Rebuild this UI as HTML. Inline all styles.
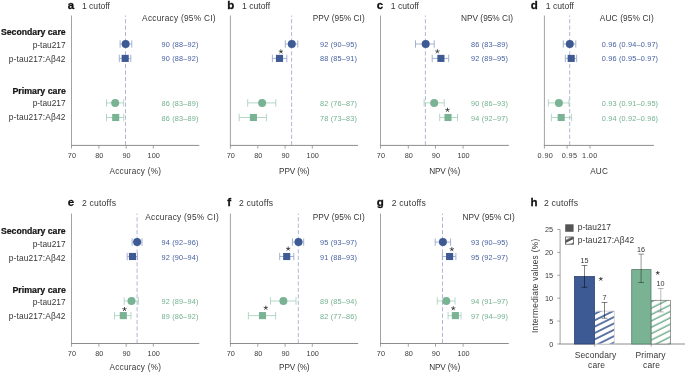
<!DOCTYPE html>
<html><head><meta charset="utf-8"><style>
html,body{margin:0;padding:0;background:#fff;}
svg{display:block;font-family:"Liberation Sans", sans-serif;will-change:transform;transform:translateZ(0);}
</style></head><body>
<svg width="685" height="372" viewBox="0 0 685 372">
<rect width="685" height="372" fill="#fff"/>
<text x="65.6" y="35.2" font-size="8.68" text-anchor="end" font-weight="bold" fill="#151515" stroke="#151515" stroke-width="0.22">Secondary care</text>
<text x="65.6" y="47.8" font-size="8.35" text-anchor="end" font-weight="normal" fill="#363636" >p-tau217</text>
<text x="65.6" y="62.1" font-size="8.35" text-anchor="end" font-weight="normal" fill="#363636" letter-spacing="0.15" >p-tau217:A&#946;42</text>
<text x="65.8" y="93.5" font-size="8.8" text-anchor="end" font-weight="bold" fill="#151515" stroke="#151515" stroke-width="0.22">Primary care</text>
<text x="65.6" y="106.4" font-size="8.35" text-anchor="end" font-weight="normal" fill="#363636" >p-tau217</text>
<text x="65.6" y="120.3" font-size="8.35" text-anchor="end" font-weight="normal" fill="#363636" letter-spacing="0.15" >p-tau217:A&#946;42</text>
<text x="65.6" y="234.10000000000002" font-size="8.68" text-anchor="end" font-weight="bold" fill="#151515" stroke="#151515" stroke-width="0.22">Secondary care</text>
<text x="65.6" y="246.7" font-size="8.35" text-anchor="end" font-weight="normal" fill="#363636" >p-tau217</text>
<text x="65.6" y="261.0" font-size="8.35" text-anchor="end" font-weight="normal" fill="#363636" letter-spacing="0.15" >p-tau217:A&#946;42</text>
<text x="65.8" y="293.0" font-size="8.8" text-anchor="end" font-weight="bold" fill="#151515" stroke="#151515" stroke-width="0.22">Primary care</text>
<text x="65.6" y="305.3" font-size="8.35" text-anchor="end" font-weight="normal" fill="#363636" >p-tau217</text>
<text x="65.6" y="319.2" font-size="8.35" text-anchor="end" font-weight="normal" fill="#363636" letter-spacing="0.15" >p-tau217:A&#946;42</text>
<text x="67.7" y="9.0" font-size="11.5" text-anchor="start" font-weight="bold" fill="#111" stroke="#111" stroke-width="0.3">a</text>
<text x="81.9" y="9.0" font-size="8.6" text-anchor="start" font-weight="normal" fill="#363636" >1 cutoff</text>
<line x1="71.5" y1="15.5" x2="71.5" y2="145.4" stroke="#a2a2a2" stroke-width="1" />
<line x1="71.0" y1="145.4" x2="199.3" y2="145.4" stroke="#8c8c8c" stroke-width="1" />
<line x1="71.5" y1="145.4" x2="71.5" y2="148.6" stroke="#8c8c8c" stroke-width="0.8" />
<text x="71.9" y="158.2" font-size="7.3" text-anchor="middle" font-weight="normal" fill="#3a3a3a" >70</text>
<line x1="98.9" y1="145.4" x2="98.9" y2="148.6" stroke="#8c8c8c" stroke-width="0.8" />
<text x="99.30000000000001" y="158.2" font-size="7.3" text-anchor="middle" font-weight="normal" fill="#3a3a3a" >80</text>
<line x1="126.2" y1="145.4" x2="126.2" y2="148.6" stroke="#8c8c8c" stroke-width="0.8" />
<text x="126.60000000000001" y="158.2" font-size="7.3" text-anchor="middle" font-weight="normal" fill="#3a3a3a" >90</text>
<line x1="153.3" y1="145.4" x2="153.3" y2="148.6" stroke="#8c8c8c" stroke-width="0.8" />
<text x="153.70000000000002" y="158.2" font-size="7.3" text-anchor="middle" font-weight="normal" fill="#3a3a3a" >100</text>
<text x="135.4" y="173.8" font-size="8.2" text-anchor="middle" font-weight="normal" fill="#363636" letter-spacing="0.25" >Accuracy (%)</text>
<line x1="125.5" y1="15.5" x2="125.5" y2="145" stroke="#b3b5d8" stroke-width="1" stroke-dasharray="4.2 2.22" stroke-dashoffset="2.8"/>
<text x="142.1" y="20.8" font-size="8.3" text-anchor="start" font-weight="normal" fill="#363636" letter-spacing="0.27" >Accuracy (95% CI)</text>
<text x="161.5" y="46.9" font-size="7.3" text-anchor="start" font-weight="normal" fill="#46609e" letter-spacing="0.18" >90 (88–92)</text>
<text x="161.5" y="61.4" font-size="7.3" text-anchor="start" font-weight="normal" fill="#46609e" letter-spacing="0.18" >90 (88–92)</text>
<text x="161.5" y="106.2" font-size="7.3" text-anchor="start" font-weight="normal" fill="#74b190" letter-spacing="0.18" >86 (83–89)</text>
<text x="161.5" y="120.8" font-size="7.3" text-anchor="start" font-weight="normal" fill="#74b190" letter-spacing="0.18" >86 (83–89)</text>
<line x1="120.1" y1="44.0" x2="131.8" y2="44.0" stroke="#9aa9cc" stroke-width="0.9" />
<line x1="120.1" y1="40.3" x2="120.1" y2="47.7" stroke="#9aa9cc" stroke-width="0.9" />
<line x1="131.8" y1="40.3" x2="131.8" y2="47.7" stroke="#9aa9cc" stroke-width="0.9" />
<circle cx="125.65" cy="44.0" r="4" fill="#3d5a94"/>
<line x1="119.3" y1="58.4" x2="130.8" y2="58.4" stroke="#9aa9cc" stroke-width="0.9" />
<line x1="119.3" y1="54.699999999999996" x2="119.3" y2="62.1" stroke="#9aa9cc" stroke-width="0.9" />
<line x1="130.8" y1="54.699999999999996" x2="130.8" y2="62.1" stroke="#9aa9cc" stroke-width="0.9" />
<rect x="121.65" y="54.85" width="7.1" height="7.1" fill="#3d5a94"/>
<line x1="106.5" y1="102.9" x2="123.7" y2="102.9" stroke="#acd3bf" stroke-width="0.9" />
<line x1="106.5" y1="99.2" x2="106.5" y2="106.60000000000001" stroke="#acd3bf" stroke-width="0.9" />
<line x1="123.7" y1="99.2" x2="123.7" y2="106.60000000000001" stroke="#acd3bf" stroke-width="0.9" />
<circle cx="115.2" cy="102.9" r="4" fill="#79b394"/>
<line x1="106.5" y1="117.5" x2="123.7" y2="117.5" stroke="#acd3bf" stroke-width="0.9" />
<line x1="106.5" y1="113.8" x2="106.5" y2="121.2" stroke="#acd3bf" stroke-width="0.9" />
<line x1="123.7" y1="113.8" x2="123.7" y2="121.2" stroke="#acd3bf" stroke-width="0.9" />
<rect x="112.15" y="113.95" width="7.1" height="7.1" fill="#79b394"/>
<text x="227.3" y="9.0" font-size="11.5" text-anchor="start" font-weight="bold" fill="#111" stroke="#111" stroke-width="0.3">b</text>
<text x="242.1" y="9.0" font-size="8.6" text-anchor="start" font-weight="normal" fill="#363636" >1 cutoff</text>
<line x1="230.4" y1="15.5" x2="230.4" y2="145.4" stroke="#a2a2a2" stroke-width="1" />
<line x1="229.9" y1="145.4" x2="358.1" y2="145.4" stroke="#8c8c8c" stroke-width="1" />
<line x1="230.4" y1="145.4" x2="230.4" y2="148.6" stroke="#8c8c8c" stroke-width="0.8" />
<text x="230.8" y="158.2" font-size="7.3" text-anchor="middle" font-weight="normal" fill="#3a3a3a" >70</text>
<line x1="257.8" y1="145.4" x2="257.8" y2="148.6" stroke="#8c8c8c" stroke-width="0.8" />
<text x="258.2" y="158.2" font-size="7.3" text-anchor="middle" font-weight="normal" fill="#3a3a3a" >80</text>
<line x1="285.1" y1="145.4" x2="285.1" y2="148.6" stroke="#8c8c8c" stroke-width="0.8" />
<text x="285.5" y="158.2" font-size="7.3" text-anchor="middle" font-weight="normal" fill="#3a3a3a" >90</text>
<line x1="312.3" y1="145.4" x2="312.3" y2="148.6" stroke="#8c8c8c" stroke-width="0.8" />
<text x="312.7" y="158.2" font-size="7.3" text-anchor="middle" font-weight="normal" fill="#3a3a3a" >100</text>
<text x="294.25" y="173.8" font-size="8.2" text-anchor="middle" font-weight="normal" fill="#363636" letter-spacing="-0.15" >PPV (%)</text>
<line x1="291.6" y1="15.5" x2="291.6" y2="145" stroke="#b3b5d8" stroke-width="1" stroke-dasharray="4.2 2.22" stroke-dashoffset="2.8"/>
<text x="312.7" y="20.8" font-size="8.3" text-anchor="start" font-weight="normal" fill="#363636" letter-spacing="0.03" >PPV (95% CI)</text>
<text x="320" y="46.9" font-size="7.3" text-anchor="start" font-weight="normal" fill="#46609e" letter-spacing="0.18" >92 (90–95)</text>
<text x="320" y="61.4" font-size="7.3" text-anchor="start" font-weight="normal" fill="#46609e" letter-spacing="0.18" >88 (85–91)</text>
<text x="320" y="106.2" font-size="7.3" text-anchor="start" font-weight="normal" fill="#74b190" letter-spacing="0.18" >82 (76–87)</text>
<text x="320" y="120.8" font-size="7.3" text-anchor="start" font-weight="normal" fill="#74b190" letter-spacing="0.18" >78 (73–83)</text>
<line x1="285.3" y1="44.0" x2="297.8" y2="44.0" stroke="#9aa9cc" stroke-width="0.9" />
<line x1="285.3" y1="40.3" x2="285.3" y2="47.7" stroke="#9aa9cc" stroke-width="0.9" />
<line x1="297.8" y1="40.3" x2="297.8" y2="47.7" stroke="#9aa9cc" stroke-width="0.9" />
<circle cx="291.8" cy="44.0" r="4" fill="#3d5a94"/>
<line x1="272.4" y1="58.4" x2="286.8" y2="58.4" stroke="#9aa9cc" stroke-width="0.9" />
<line x1="272.4" y1="54.699999999999996" x2="272.4" y2="62.1" stroke="#9aa9cc" stroke-width="0.9" />
<line x1="286.8" y1="54.699999999999996" x2="286.8" y2="62.1" stroke="#9aa9cc" stroke-width="0.9" />
<rect x="275.95" y="54.85" width="7.1" height="7.1" fill="#3d5a94"/>
<line x1="247.7" y1="102.9" x2="275.8" y2="102.9" stroke="#acd3bf" stroke-width="0.9" />
<line x1="247.7" y1="99.2" x2="247.7" y2="106.60000000000001" stroke="#acd3bf" stroke-width="0.9" />
<line x1="275.8" y1="99.2" x2="275.8" y2="106.60000000000001" stroke="#acd3bf" stroke-width="0.9" />
<circle cx="262.1" cy="102.9" r="4" fill="#79b394"/>
<line x1="239.2" y1="117.5" x2="266.4" y2="117.5" stroke="#acd3bf" stroke-width="0.9" />
<line x1="239.2" y1="113.8" x2="239.2" y2="121.2" stroke="#acd3bf" stroke-width="0.9" />
<line x1="266.4" y1="113.8" x2="266.4" y2="121.2" stroke="#acd3bf" stroke-width="0.9" />
<rect x="249.85" y="113.95" width="7.1" height="7.1" fill="#79b394"/>
<path d="M280.90 51.60L280.90 49.75M280.90 51.60L282.66 51.03M280.90 51.60L281.99 53.10M280.90 51.60L279.81 53.10M280.90 51.60L279.14 51.03" stroke="#3a3a3a" stroke-width="0.85" stroke-linecap="round" fill="none"/>
<text x="376.8" y="9.0" font-size="11.5" text-anchor="start" font-weight="bold" fill="#111" stroke="#111" stroke-width="0.3">c</text>
<text x="390.8" y="9.0" font-size="8.6" text-anchor="start" font-weight="normal" fill="#363636" >1 cutoff</text>
<line x1="380.5" y1="15.5" x2="380.5" y2="145.4" stroke="#a2a2a2" stroke-width="1" />
<line x1="380.0" y1="145.4" x2="508.8" y2="145.4" stroke="#8c8c8c" stroke-width="1" />
<line x1="380.5" y1="145.4" x2="380.5" y2="148.6" stroke="#8c8c8c" stroke-width="0.8" />
<text x="380.9" y="158.2" font-size="7.3" text-anchor="middle" font-weight="normal" fill="#3a3a3a" >70</text>
<line x1="408.3" y1="145.4" x2="408.3" y2="148.6" stroke="#8c8c8c" stroke-width="0.8" />
<text x="408.7" y="158.2" font-size="7.3" text-anchor="middle" font-weight="normal" fill="#3a3a3a" >80</text>
<line x1="435.5" y1="145.4" x2="435.5" y2="148.6" stroke="#8c8c8c" stroke-width="0.8" />
<text x="435.9" y="158.2" font-size="7.3" text-anchor="middle" font-weight="normal" fill="#3a3a3a" >90</text>
<line x1="463.1" y1="145.4" x2="463.1" y2="148.6" stroke="#8c8c8c" stroke-width="0.8" />
<text x="463.5" y="158.2" font-size="7.3" text-anchor="middle" font-weight="normal" fill="#3a3a3a" >100</text>
<text x="444.65" y="173.8" font-size="8.2" text-anchor="middle" font-weight="normal" fill="#363636" letter-spacing="-0.15" >NPV (%)</text>
<line x1="425.4" y1="15.5" x2="425.4" y2="145" stroke="#b3b5d8" stroke-width="1" stroke-dasharray="4.2 2.22" stroke-dashoffset="2.8"/>
<text x="461" y="20.8" font-size="8.3" text-anchor="start" font-weight="normal" fill="#363636" >NPV (95% CI)</text>
<text x="471" y="46.9" font-size="7.3" text-anchor="start" font-weight="normal" fill="#46609e" letter-spacing="0.18" >86 (83–89)</text>
<text x="471" y="61.4" font-size="7.3" text-anchor="start" font-weight="normal" fill="#46609e" letter-spacing="0.18" >92 (89–95)</text>
<text x="471" y="106.2" font-size="7.3" text-anchor="start" font-weight="normal" fill="#74b190" letter-spacing="0.18" >90 (86–93)</text>
<text x="471" y="120.8" font-size="7.3" text-anchor="start" font-weight="normal" fill="#74b190" letter-spacing="0.18" >94 (92–97)</text>
<line x1="415.5" y1="44.0" x2="434.2" y2="44.0" stroke="#9aa9cc" stroke-width="0.9" />
<line x1="415.5" y1="40.3" x2="415.5" y2="47.7" stroke="#9aa9cc" stroke-width="0.9" />
<line x1="434.2" y1="40.3" x2="434.2" y2="47.7" stroke="#9aa9cc" stroke-width="0.9" />
<circle cx="425.7" cy="44.0" r="4" fill="#3d5a94"/>
<line x1="432.2" y1="58.4" x2="448.7" y2="58.4" stroke="#9aa9cc" stroke-width="0.9" />
<line x1="432.2" y1="54.699999999999996" x2="432.2" y2="62.1" stroke="#9aa9cc" stroke-width="0.9" />
<line x1="448.7" y1="54.699999999999996" x2="448.7" y2="62.1" stroke="#9aa9cc" stroke-width="0.9" />
<rect x="437.34999999999997" y="54.85" width="7.1" height="7.1" fill="#3d5a94"/>
<line x1="424.1" y1="102.9" x2="444.2" y2="102.9" stroke="#acd3bf" stroke-width="0.9" />
<line x1="424.1" y1="99.2" x2="424.1" y2="106.60000000000001" stroke="#acd3bf" stroke-width="0.9" />
<line x1="444.2" y1="99.2" x2="444.2" y2="106.60000000000001" stroke="#acd3bf" stroke-width="0.9" />
<circle cx="434.2" cy="102.9" r="4" fill="#79b394"/>
<line x1="439.7" y1="117.5" x2="457.5" y2="117.5" stroke="#acd3bf" stroke-width="0.9" />
<line x1="439.7" y1="113.8" x2="439.7" y2="121.2" stroke="#acd3bf" stroke-width="0.9" />
<line x1="457.5" y1="113.8" x2="457.5" y2="121.2" stroke="#acd3bf" stroke-width="0.9" />
<rect x="444.45" y="113.95" width="7.1" height="7.1" fill="#79b394"/>
<path d="M437.40 51.50L437.40 49.65M437.40 51.50L439.16 50.93M437.40 51.50L438.49 53.00M437.40 51.50L436.31 53.00M437.40 51.50L435.64 50.93" stroke="#3a3a3a" stroke-width="0.85" stroke-linecap="round" fill="none"/>
<path d="M447.50 110.00L447.50 108.15M447.50 110.00L449.26 109.43M447.50 110.00L448.59 111.50M447.50 110.00L446.41 111.50M447.50 110.00L445.74 109.43" stroke="#3a3a3a" stroke-width="0.85" stroke-linecap="round" fill="none"/>
<text x="530.8" y="9.0" font-size="11.5" text-anchor="start" font-weight="bold" fill="#111" stroke="#111" stroke-width="0.3">d</text>
<text x="545.8" y="9.0" font-size="8.6" text-anchor="start" font-weight="normal" fill="#363636" >1 cutoff</text>
<line x1="544.4" y1="15.5" x2="544.4" y2="145.4" stroke="#a2a2a2" stroke-width="1" />
<line x1="543.9" y1="145.4" x2="653.9" y2="145.4" stroke="#8c8c8c" stroke-width="1" />
<line x1="544.4" y1="145.4" x2="544.4" y2="148.6" stroke="#8c8c8c" stroke-width="0.8" />
<text x="545.4" y="158.2" font-size="7.3" text-anchor="middle" font-weight="normal" fill="#3a3a3a" letter-spacing="0.35" >0.90</text>
<line x1="567.1" y1="145.4" x2="567.1" y2="148.6" stroke="#8c8c8c" stroke-width="0.8" />
<text x="569.5" y="158.2" font-size="7.3" text-anchor="middle" font-weight="normal" fill="#3a3a3a" letter-spacing="0.35" >0.95</text>
<line x1="590" y1="145.4" x2="590" y2="148.6" stroke="#8c8c8c" stroke-width="0.8" />
<text x="589.8" y="158.2" font-size="7.3" text-anchor="middle" font-weight="normal" fill="#3a3a3a" letter-spacing="0.35" >1.00</text>
<text x="599.15" y="173.8" font-size="8.2" text-anchor="middle" font-weight="normal" fill="#363636" letter-spacing="0.25" >AUC</text>
<line x1="569.7" y1="15.5" x2="569.7" y2="145" stroke="#b3b5d8" stroke-width="1" stroke-dasharray="4.2 2.22" stroke-dashoffset="2.8"/>
<text x="599.8" y="20.8" font-size="8.3" text-anchor="start" font-weight="normal" fill="#363636" letter-spacing="0.13" >AUC (95% CI)</text>
<text x="601.8" y="46.9" font-size="7.3" text-anchor="start" font-weight="normal" fill="#46609e" letter-spacing="0.18" >0.96 (0.94–0.97)</text>
<text x="601.8" y="61.4" font-size="7.3" text-anchor="start" font-weight="normal" fill="#46609e" letter-spacing="0.18" >0.96 (0.95–0.97)</text>
<text x="601.8" y="106.2" font-size="7.3" text-anchor="start" font-weight="normal" fill="#74b190" letter-spacing="0.18" >0.93 (0.91–0.95)</text>
<text x="601.8" y="120.8" font-size="7.3" text-anchor="start" font-weight="normal" fill="#74b190" letter-spacing="0.18" >0.94 (0.92–0.96)</text>
<line x1="563.3" y1="44.0" x2="575.8" y2="44.0" stroke="#9aa9cc" stroke-width="0.9" />
<line x1="563.3" y1="40.3" x2="563.3" y2="47.7" stroke="#9aa9cc" stroke-width="0.9" />
<line x1="575.8" y1="40.3" x2="575.8" y2="47.7" stroke="#9aa9cc" stroke-width="0.9" />
<circle cx="569.8" cy="44.0" r="4" fill="#3d5a94"/>
<line x1="565.3" y1="58.4" x2="576.6" y2="58.4" stroke="#9aa9cc" stroke-width="0.9" />
<line x1="565.3" y1="54.699999999999996" x2="565.3" y2="62.1" stroke="#9aa9cc" stroke-width="0.9" />
<line x1="576.6" y1="54.699999999999996" x2="576.6" y2="62.1" stroke="#9aa9cc" stroke-width="0.9" />
<rect x="567.6500000000001" y="54.85" width="7.1" height="7.1" fill="#3d5a94"/>
<line x1="548.3" y1="102.9" x2="569.0" y2="102.9" stroke="#acd3bf" stroke-width="0.9" />
<line x1="548.3" y1="99.2" x2="548.3" y2="106.60000000000001" stroke="#acd3bf" stroke-width="0.9" />
<line x1="569.0" y1="99.2" x2="569.0" y2="106.60000000000001" stroke="#acd3bf" stroke-width="0.9" />
<circle cx="558.9" cy="102.9" r="4" fill="#79b394"/>
<line x1="551.4" y1="117.5" x2="571.6" y2="117.5" stroke="#acd3bf" stroke-width="0.9" />
<line x1="551.4" y1="113.8" x2="551.4" y2="121.2" stroke="#acd3bf" stroke-width="0.9" />
<line x1="571.6" y1="113.8" x2="571.6" y2="121.2" stroke="#acd3bf" stroke-width="0.9" />
<rect x="557.6500000000001" y="113.95" width="7.1" height="7.1" fill="#79b394"/>
<text x="67.8" y="206.1" font-size="11.5" text-anchor="start" font-weight="bold" fill="#111" stroke="#111" stroke-width="0.3">e</text>
<text x="81.9" y="206.1" font-size="8.6" text-anchor="start" font-weight="normal" fill="#363636" letter-spacing="0.22" >2 cutoffs</text>
<line x1="71.5" y1="213.6" x2="71.5" y2="343.5" stroke="#a2a2a2" stroke-width="1" />
<line x1="71.0" y1="343.5" x2="199.3" y2="343.5" stroke="#8c8c8c" stroke-width="1" />
<line x1="71.5" y1="343.5" x2="71.5" y2="346.7" stroke="#8c8c8c" stroke-width="0.8" />
<text x="71.9" y="355.5" font-size="7.3" text-anchor="middle" font-weight="normal" fill="#3a3a3a" >70</text>
<line x1="98.9" y1="343.5" x2="98.9" y2="346.7" stroke="#8c8c8c" stroke-width="0.8" />
<text x="99.30000000000001" y="355.5" font-size="7.3" text-anchor="middle" font-weight="normal" fill="#3a3a3a" >80</text>
<line x1="126.2" y1="343.5" x2="126.2" y2="346.7" stroke="#8c8c8c" stroke-width="0.8" />
<text x="126.60000000000001" y="355.5" font-size="7.3" text-anchor="middle" font-weight="normal" fill="#3a3a3a" >90</text>
<line x1="153.3" y1="343.5" x2="153.3" y2="346.7" stroke="#8c8c8c" stroke-width="0.8" />
<text x="153.70000000000002" y="355.5" font-size="7.3" text-anchor="middle" font-weight="normal" fill="#3a3a3a" >100</text>
<text x="135.4" y="369.8" font-size="8.2" text-anchor="middle" font-weight="normal" fill="#363636" letter-spacing="0.25" >Accuracy (%)</text>
<line x1="137.1" y1="213.6" x2="137.1" y2="343.1" stroke="#b3b5d8" stroke-width="1" stroke-dasharray="4.2 2.22" stroke-dashoffset="2.8"/>
<text x="145.2" y="219.70000000000002" font-size="8.3" text-anchor="start" font-weight="normal" fill="#363636" letter-spacing="0.27" >Accuracy (95% CI)</text>
<text x="161.5" y="245.0" font-size="7.3" text-anchor="start" font-weight="normal" fill="#46609e" letter-spacing="0.18" >94 (92–96)</text>
<text x="161.5" y="259.5" font-size="7.3" text-anchor="start" font-weight="normal" fill="#46609e" letter-spacing="0.18" >92 (90–94)</text>
<text x="161.5" y="304.3" font-size="7.3" text-anchor="start" font-weight="normal" fill="#74b190" letter-spacing="0.18" >92 (89–94)</text>
<text x="161.5" y="318.9" font-size="7.3" text-anchor="start" font-weight="normal" fill="#74b190" letter-spacing="0.18" >89 (86–92)</text>
<line x1="132.1" y1="242.1" x2="142.0" y2="242.1" stroke="#9aa9cc" stroke-width="0.9" />
<line x1="132.1" y1="238.4" x2="132.1" y2="245.79999999999998" stroke="#9aa9cc" stroke-width="0.9" />
<line x1="142.0" y1="238.4" x2="142.0" y2="245.79999999999998" stroke="#9aa9cc" stroke-width="0.9" />
<circle cx="137.1" cy="242.1" r="4" fill="#3d5a94"/>
<line x1="127.2" y1="256.5" x2="137.5" y2="256.5" stroke="#9aa9cc" stroke-width="0.9" />
<line x1="127.2" y1="252.8" x2="127.2" y2="260.2" stroke="#9aa9cc" stroke-width="0.9" />
<line x1="137.5" y1="252.8" x2="137.5" y2="260.2" stroke="#9aa9cc" stroke-width="0.9" />
<rect x="128.95" y="252.95" width="7.1" height="7.1" fill="#3d5a94"/>
<line x1="124.2" y1="301.0" x2="138.4" y2="301.0" stroke="#acd3bf" stroke-width="0.9" />
<line x1="124.2" y1="297.3" x2="124.2" y2="304.7" stroke="#acd3bf" stroke-width="0.9" />
<line x1="138.4" y1="297.3" x2="138.4" y2="304.7" stroke="#acd3bf" stroke-width="0.9" />
<circle cx="131.5" cy="301.0" r="4" fill="#79b394"/>
<line x1="114.5" y1="315.6" x2="130.9" y2="315.6" stroke="#acd3bf" stroke-width="0.9" />
<line x1="114.5" y1="311.90000000000003" x2="114.5" y2="319.3" stroke="#acd3bf" stroke-width="0.9" />
<line x1="130.9" y1="311.90000000000003" x2="130.9" y2="319.3" stroke="#acd3bf" stroke-width="0.9" />
<rect x="119.75" y="312.05" width="7.1" height="7.1" fill="#79b394"/>
<path d="M124.50 309.20L124.50 307.35M124.50 309.20L126.26 308.63M124.50 309.20L125.59 310.70M124.50 309.20L123.41 310.70M124.50 309.20L122.74 308.63" stroke="#3a3a3a" stroke-width="0.85" stroke-linecap="round" fill="none"/>
<text x="227.3" y="206.1" font-size="11.5" text-anchor="start" font-weight="bold" fill="#111" stroke="#111" stroke-width="0.3">f</text>
<text x="239" y="206.1" font-size="8.6" text-anchor="start" font-weight="normal" fill="#363636" letter-spacing="0.22" >2 cutoffs</text>
<line x1="230.4" y1="213.6" x2="230.4" y2="343.5" stroke="#a2a2a2" stroke-width="1" />
<line x1="229.9" y1="343.5" x2="358.1" y2="343.5" stroke="#8c8c8c" stroke-width="1" />
<line x1="230.4" y1="343.5" x2="230.4" y2="346.7" stroke="#8c8c8c" stroke-width="0.8" />
<text x="230.8" y="355.5" font-size="7.3" text-anchor="middle" font-weight="normal" fill="#3a3a3a" >70</text>
<line x1="257.8" y1="343.5" x2="257.8" y2="346.7" stroke="#8c8c8c" stroke-width="0.8" />
<text x="258.2" y="355.5" font-size="7.3" text-anchor="middle" font-weight="normal" fill="#3a3a3a" >80</text>
<line x1="285.1" y1="343.5" x2="285.1" y2="346.7" stroke="#8c8c8c" stroke-width="0.8" />
<text x="285.5" y="355.5" font-size="7.3" text-anchor="middle" font-weight="normal" fill="#3a3a3a" >90</text>
<line x1="312.3" y1="343.5" x2="312.3" y2="346.7" stroke="#8c8c8c" stroke-width="0.8" />
<text x="312.7" y="355.5" font-size="7.3" text-anchor="middle" font-weight="normal" fill="#3a3a3a" >100</text>
<text x="294.25" y="369.8" font-size="8.2" text-anchor="middle" font-weight="normal" fill="#363636" letter-spacing="-0.15" >PPV (%)</text>
<line x1="298.3" y1="213.6" x2="298.3" y2="343.1" stroke="#b3b5d8" stroke-width="1" stroke-dasharray="4.2 2.22" stroke-dashoffset="2.8"/>
<text x="312.7" y="219.70000000000002" font-size="8.3" text-anchor="start" font-weight="normal" fill="#363636" letter-spacing="0.03" >PPV (95% CI)</text>
<text x="320" y="245.0" font-size="7.3" text-anchor="start" font-weight="normal" fill="#46609e" letter-spacing="0.18" >95 (93–97)</text>
<text x="320" y="259.5" font-size="7.3" text-anchor="start" font-weight="normal" fill="#46609e" letter-spacing="0.18" >91 (88–93)</text>
<text x="320" y="304.3" font-size="7.3" text-anchor="start" font-weight="normal" fill="#74b190" letter-spacing="0.18" >89 (85–94)</text>
<text x="320" y="318.9" font-size="7.3" text-anchor="start" font-weight="normal" fill="#74b190" letter-spacing="0.18" >82 (77–86)</text>
<line x1="292.4" y1="242.1" x2="303.7" y2="242.1" stroke="#9aa9cc" stroke-width="0.9" />
<line x1="292.4" y1="238.4" x2="292.4" y2="245.79999999999998" stroke="#9aa9cc" stroke-width="0.9" />
<line x1="303.7" y1="238.4" x2="303.7" y2="245.79999999999998" stroke="#9aa9cc" stroke-width="0.9" />
<circle cx="298.5" cy="242.1" r="4" fill="#3d5a94"/>
<line x1="279.7" y1="256.5" x2="293.8" y2="256.5" stroke="#9aa9cc" stroke-width="0.9" />
<line x1="279.7" y1="252.8" x2="279.7" y2="260.2" stroke="#9aa9cc" stroke-width="0.9" />
<line x1="293.8" y1="252.8" x2="293.8" y2="260.2" stroke="#9aa9cc" stroke-width="0.9" />
<rect x="283.15" y="252.95" width="7.1" height="7.1" fill="#3d5a94"/>
<line x1="270.5" y1="301.0" x2="296.0" y2="301.0" stroke="#acd3bf" stroke-width="0.9" />
<line x1="270.5" y1="297.3" x2="270.5" y2="304.7" stroke="#acd3bf" stroke-width="0.9" />
<line x1="296.0" y1="297.3" x2="296.0" y2="304.7" stroke="#acd3bf" stroke-width="0.9" />
<circle cx="283.4" cy="301.0" r="4" fill="#79b394"/>
<line x1="248.4" y1="315.6" x2="275.6" y2="315.6" stroke="#acd3bf" stroke-width="0.9" />
<line x1="248.4" y1="311.90000000000003" x2="248.4" y2="319.3" stroke="#acd3bf" stroke-width="0.9" />
<line x1="275.6" y1="311.90000000000003" x2="275.6" y2="319.3" stroke="#acd3bf" stroke-width="0.9" />
<rect x="258.95" y="312.05" width="7.1" height="7.1" fill="#79b394"/>
<path d="M288.20 248.80L288.20 246.95M288.20 248.80L289.96 248.23M288.20 248.80L289.29 250.30M288.20 248.80L287.11 250.30M288.20 248.80L286.44 248.23" stroke="#3a3a3a" stroke-width="0.85" stroke-linecap="round" fill="none"/>
<path d="M265.80 307.90L265.80 306.05M265.80 307.90L267.56 307.33M265.80 307.90L266.89 309.40M265.80 307.90L264.71 309.40M265.80 307.90L264.04 307.33" stroke="#3a3a3a" stroke-width="0.85" stroke-linecap="round" fill="none"/>
<text x="376.8" y="206.1" font-size="11.5" text-anchor="start" font-weight="bold" fill="#111" stroke="#111" stroke-width="0.3">g</text>
<text x="391.7" y="206.1" font-size="8.6" text-anchor="start" font-weight="normal" fill="#363636" letter-spacing="0.22" >2 cutoffs</text>
<line x1="380.5" y1="213.6" x2="380.5" y2="343.5" stroke="#a2a2a2" stroke-width="1" />
<line x1="380.0" y1="343.5" x2="508.8" y2="343.5" stroke="#8c8c8c" stroke-width="1" />
<line x1="380.5" y1="343.5" x2="380.5" y2="346.7" stroke="#8c8c8c" stroke-width="0.8" />
<text x="380.9" y="355.5" font-size="7.3" text-anchor="middle" font-weight="normal" fill="#3a3a3a" >70</text>
<line x1="408.3" y1="343.5" x2="408.3" y2="346.7" stroke="#8c8c8c" stroke-width="0.8" />
<text x="408.7" y="355.5" font-size="7.3" text-anchor="middle" font-weight="normal" fill="#3a3a3a" >80</text>
<line x1="435.5" y1="343.5" x2="435.5" y2="346.7" stroke="#8c8c8c" stroke-width="0.8" />
<text x="435.9" y="355.5" font-size="7.3" text-anchor="middle" font-weight="normal" fill="#3a3a3a" >90</text>
<line x1="463.1" y1="343.5" x2="463.1" y2="346.7" stroke="#8c8c8c" stroke-width="0.8" />
<text x="463.5" y="355.5" font-size="7.3" text-anchor="middle" font-weight="normal" fill="#3a3a3a" >100</text>
<text x="444.65" y="369.8" font-size="8.2" text-anchor="middle" font-weight="normal" fill="#363636" letter-spacing="-0.15" >NPV (%)</text>
<line x1="442.5" y1="213.6" x2="442.5" y2="343.1" stroke="#b3b5d8" stroke-width="1" stroke-dasharray="4.2 2.22" stroke-dashoffset="2.8"/>
<text x="462.6" y="219.70000000000002" font-size="8.3" text-anchor="start" font-weight="normal" fill="#363636" >NPV (95% CI)</text>
<text x="471" y="245.0" font-size="7.3" text-anchor="start" font-weight="normal" fill="#46609e" letter-spacing="0.18" >93 (90–95)</text>
<text x="471" y="259.5" font-size="7.3" text-anchor="start" font-weight="normal" fill="#46609e" letter-spacing="0.18" >95 (92–97)</text>
<text x="471" y="304.3" font-size="7.3" text-anchor="start" font-weight="normal" fill="#74b190" letter-spacing="0.18" >94 (91–97)</text>
<text x="471" y="318.9" font-size="7.3" text-anchor="start" font-weight="normal" fill="#74b190" letter-spacing="0.18" >97 (94–99)</text>
<line x1="435.2" y1="242.1" x2="450.6" y2="242.1" stroke="#9aa9cc" stroke-width="0.9" />
<line x1="435.2" y1="238.4" x2="435.2" y2="245.79999999999998" stroke="#9aa9cc" stroke-width="0.9" />
<line x1="450.6" y1="238.4" x2="450.6" y2="245.79999999999998" stroke="#9aa9cc" stroke-width="0.9" />
<circle cx="442.9" cy="242.1" r="4" fill="#3d5a94"/>
<line x1="442.4" y1="256.5" x2="455.9" y2="256.5" stroke="#9aa9cc" stroke-width="0.9" />
<line x1="442.4" y1="252.8" x2="442.4" y2="260.2" stroke="#9aa9cc" stroke-width="0.9" />
<line x1="455.9" y1="252.8" x2="455.9" y2="260.2" stroke="#9aa9cc" stroke-width="0.9" />
<rect x="446.05" y="252.95" width="7.1" height="7.1" fill="#3d5a94"/>
<line x1="437.3" y1="301.0" x2="455.0" y2="301.0" stroke="#acd3bf" stroke-width="0.9" />
<line x1="437.3" y1="297.3" x2="437.3" y2="304.7" stroke="#acd3bf" stroke-width="0.9" />
<line x1="455.0" y1="297.3" x2="455.0" y2="304.7" stroke="#acd3bf" stroke-width="0.9" />
<circle cx="446.3" cy="301.0" r="4" fill="#79b394"/>
<line x1="448.1" y1="315.6" x2="461.0" y2="315.6" stroke="#acd3bf" stroke-width="0.9" />
<line x1="448.1" y1="311.90000000000003" x2="448.1" y2="319.3" stroke="#acd3bf" stroke-width="0.9" />
<line x1="461.0" y1="311.90000000000003" x2="461.0" y2="319.3" stroke="#acd3bf" stroke-width="0.9" />
<rect x="451.84999999999997" y="312.05" width="7.1" height="7.1" fill="#79b394"/>
<path d="M451.80 249.30L451.80 247.45M451.80 249.30L453.56 248.73M451.80 249.30L452.89 250.80M451.80 249.30L450.71 250.80M451.80 249.30L450.04 248.73" stroke="#3a3a3a" stroke-width="0.85" stroke-linecap="round" fill="none"/>
<path d="M453.30 308.40L453.30 306.55M453.30 308.40L455.06 307.83M453.30 308.40L454.39 309.90M453.30 308.40L452.21 309.90M453.30 308.40L451.54 307.83" stroke="#3a3a3a" stroke-width="0.85" stroke-linecap="round" fill="none"/>
<text x="530.4" y="206.0" font-size="11.5" text-anchor="start" font-weight="bold" fill="#111" stroke="#111" stroke-width="0.3">h</text>
<text x="543.9" y="206.0" font-size="8.6" text-anchor="start" font-weight="normal" fill="#363636" letter-spacing="0.22" >2 cutoffs</text>
<line x1="560.1" y1="229.5" x2="560.1" y2="344.0" stroke="#a2a2a2" stroke-width="1" />
<line x1="559.6" y1="344.0" x2="685" y2="344.0" stroke="#8c8c8c" stroke-width="1" />
<line x1="557.3" y1="229.5" x2="560.1" y2="229.5" stroke="#8c8c8c" stroke-width="0.8" />
<text x="553.2" y="232.1" font-size="7.3" text-anchor="end" font-weight="normal" fill="#3a3a3a" >25</text>
<line x1="557.3" y1="252.4" x2="560.1" y2="252.4" stroke="#8c8c8c" stroke-width="0.8" />
<text x="553.2" y="255.0" font-size="7.3" text-anchor="end" font-weight="normal" fill="#3a3a3a" >20</text>
<line x1="557.3" y1="275.3" x2="560.1" y2="275.3" stroke="#8c8c8c" stroke-width="0.8" />
<text x="553.2" y="277.90000000000003" font-size="7.3" text-anchor="end" font-weight="normal" fill="#3a3a3a" >15</text>
<line x1="557.3" y1="298.2" x2="560.1" y2="298.2" stroke="#8c8c8c" stroke-width="0.8" />
<text x="553.2" y="300.8" font-size="7.3" text-anchor="end" font-weight="normal" fill="#3a3a3a" >10</text>
<line x1="557.3" y1="321.1" x2="560.1" y2="321.1" stroke="#8c8c8c" stroke-width="0.8" />
<text x="553.2" y="323.70000000000005" font-size="7.3" text-anchor="end" font-weight="normal" fill="#3a3a3a" >5</text>
<line x1="557.3" y1="344.0" x2="560.1" y2="344.0" stroke="#8c8c8c" stroke-width="0.8" />
<text x="553.2" y="346.6" font-size="7.3" text-anchor="end" font-weight="normal" fill="#3a3a3a" >0</text>
<line x1="594.7" y1="344" x2="594.7" y2="346.6" stroke="#8c8c8c" stroke-width="0.8" />
<line x1="651.2" y1="344" x2="651.2" y2="346.6" stroke="#8c8c8c" stroke-width="0.8" />
<text x="0" y="0" font-size="8.3" text-anchor="middle" font-weight="normal" fill="#363636" letter-spacing="0.3" transform="translate(537.9,285.8) rotate(-90)">Intermediate values (%)</text>
<rect x="565.2" y="224.3" width="8.4" height="7.5" fill="#555555"/>
<defs>
<pattern id="hl" patternUnits="userSpaceOnUse" width="5.8" height="5.8" patternTransform="rotate(-26.5)"><rect width="5.8" height="5.8" fill="#fff"/><rect y="3.26" width="5.8" height="2.8" fill="#505050"/></pattern>
<pattern id="hb" patternUnits="userSpaceOnUse" width="5.7" height="5.7" patternTransform="rotate(-26.5)"><rect width="5.7" height="5.7" fill="#fff"/><rect y="4.0" width="5.7" height="1.6" fill="#3d5a94"/></pattern>
<pattern id="hg" patternUnits="userSpaceOnUse" width="5.7" height="5.7" patternTransform="rotate(-26.5)"><rect width="5.7" height="5.7" fill="#fff"/><rect y="1.4" width="5.7" height="1.45" fill="#72ae8e"/></pattern>
</defs>
<rect x="565.4" y="237.0" width="8.0" height="7.2" fill="url(#hl)" stroke="#555" stroke-width="0.8"/>
<text x="577.8" y="230.3" font-size="8.4" text-anchor="start" font-weight="normal" fill="#363636" >p-tau217</text>
<text x="577.8" y="243.0" font-size="8.4" text-anchor="start" font-weight="normal" fill="#363636" letter-spacing="0.1" >p-tau217:A&#946;42</text>
<rect x="594.4" y="311.1" width="19.9" height="32.9" fill="url(#hb)" stroke="#cfcfcf" stroke-width="0.8"/>
<rect x="574.5" y="276.5" width="20.0" height="67.5" fill="#3d5a94" stroke="#2d4270" stroke-width="0.8"/>
<rect x="651.0" y="300.3" width="19.6" height="43.7" fill="url(#hg)" stroke="#727272" stroke-width="0.7"/>
<rect x="631.7" y="269.6" width="19.3" height="74.4" fill="#79b394" stroke="#557f69" stroke-width="0.8"/>
<line x1="584.5" y1="265.5" x2="584.5" y2="287.3" stroke="rgba(0,0,0,0.55)" stroke-width="0.9" />
<line x1="581.6" y1="265.5" x2="587.4" y2="265.5" stroke="rgba(0,0,0,0.55)" stroke-width="0.9" />
<line x1="581.6" y1="287.3" x2="587.4" y2="287.3" stroke="rgba(0,0,0,0.55)" stroke-width="0.9" />
<line x1="604.5" y1="302.5" x2="604.5" y2="318.2" stroke="rgba(0,0,0,0.55)" stroke-width="0.9" />
<line x1="601.6" y1="302.5" x2="607.4" y2="302.5" stroke="rgba(0,0,0,0.55)" stroke-width="0.9" />
<line x1="601.6" y1="318.2" x2="607.4" y2="318.2" stroke="rgba(0,0,0,0.55)" stroke-width="0.9" />
<line x1="641.1" y1="254.1" x2="641.1" y2="282.5" stroke="rgba(0,0,0,0.45)" stroke-width="0.9" />
<line x1="638.2" y1="254.1" x2="644.0" y2="254.1" stroke="rgba(0,0,0,0.45)" stroke-width="0.9" />
<line x1="638.2" y1="282.5" x2="644.0" y2="282.5" stroke="rgba(0,0,0,0.45)" stroke-width="0.9" />
<line x1="660.8" y1="288.5" x2="660.8" y2="311.9" stroke="rgba(0,0,0,0.3)" stroke-width="0.9" />
<line x1="657.9" y1="288.5" x2="663.6999999999999" y2="288.5" stroke="rgba(0,0,0,0.3)" stroke-width="0.9" />
<line x1="657.9" y1="311.9" x2="663.6999999999999" y2="311.9" stroke="rgba(0,0,0,0.3)" stroke-width="0.9" />
<text x="584.4" y="262.7" font-size="7.2" text-anchor="middle" font-weight="normal" fill="#333" >15</text>
<text x="604.6" y="300.4" font-size="7.2" text-anchor="middle" font-weight="normal" fill="#333" >7</text>
<text x="641.0" y="252.3" font-size="7.2" text-anchor="middle" font-weight="normal" fill="#333" >16</text>
<text x="660.5" y="286.4" font-size="7.2" text-anchor="middle" font-weight="normal" fill="#333" >10</text>
<path d="M600.80 279.00L600.80 277.40M600.80 279.00L602.32 278.51M600.80 279.00L601.74 280.29M600.80 279.00L599.86 280.29M600.80 279.00L599.28 278.51" stroke="#3a3a3a" stroke-width="0.85" stroke-linecap="round" fill="none"/>
<path d="M657.70 273.00L657.70 271.40M657.70 273.00L659.22 272.51M657.70 273.00L658.64 274.29M657.70 273.00L656.76 274.29M657.70 273.00L656.18 272.51" stroke="#3a3a3a" stroke-width="0.85" stroke-linecap="round" fill="none"/>
<text x="595.5" y="358.4" font-size="8.5" text-anchor="middle" font-weight="normal" fill="#363636" letter-spacing="0.1" >Secondary</text>
<text x="596.5" y="367.8" font-size="8.5" text-anchor="middle" font-weight="normal" fill="#363636" letter-spacing="0.1" >care</text>
<text x="650.6" y="358.4" font-size="8.5" text-anchor="middle" font-weight="normal" fill="#363636" letter-spacing="0.1" >Primary</text>
<text x="651.5" y="367.8" font-size="8.5" text-anchor="middle" font-weight="normal" fill="#363636" letter-spacing="0.1" >care</text>
</svg>
</body></html>
